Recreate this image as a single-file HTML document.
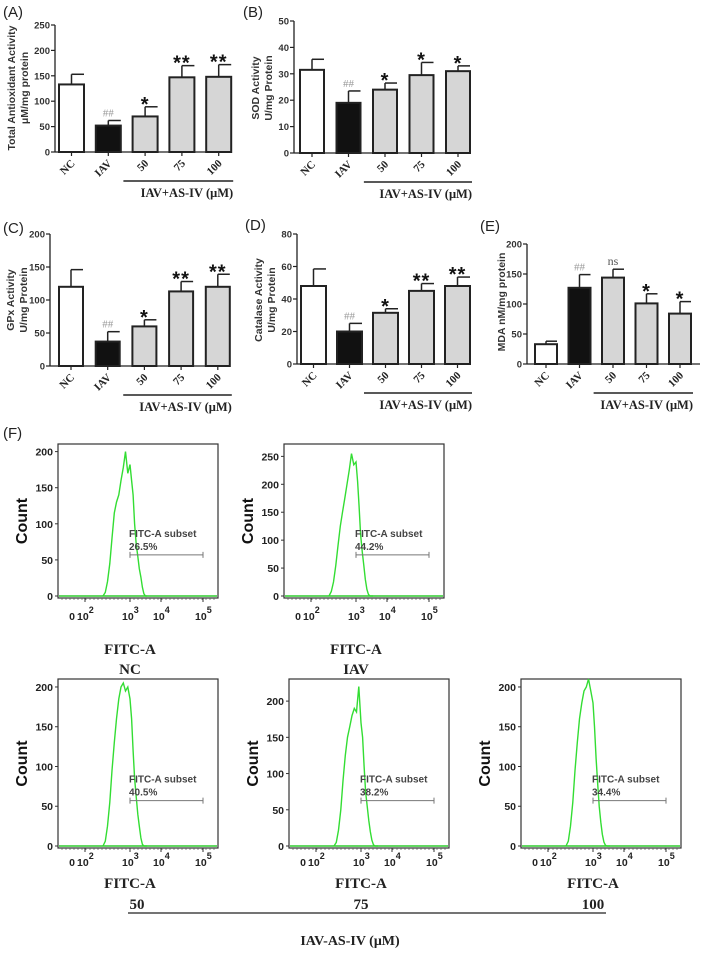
<!DOCTYPE html>
<html><head><meta charset="utf-8">
<style>
html,body{margin:0;padding:0;background:#fff;}
svg{display:block;}
.sans{font-family:"Liberation Sans",Arial,sans-serif;}
.serif{font-family:"Liberation Serif","Times New Roman",serif;}
</style></head>
<body>
<svg id="fig" width="702" height="955" viewBox="0 0 702 955" xmlns="http://www.w3.org/2000/svg"></svg>
<script>
// ---- bar chart data ----
const barCategories = ["NC","IAV","50","75","100"];
const aValues = [133,52,70,147,148];
const aErrors = [20,10,19,23,24];
const aMarks = ["","##","*","**","**"];
const bValues = [31.5,19,24,29.5,31];
const bErrors = [4,4.5,2.5,4.8,2];
const bMarks = ["","##","*","*","*"];
const cValues = [120,37,60,113,120];
const cErrors = [26,15,10,15,19];
const cMarks = ["","##","*","**","**"];
const dValues = [48,20,31.5,45,48];
const dErrors = [10.5,5,2.5,4.5,5.5];
const dMarks = ["","##","*","**","**"];
const eValues = [33,127,144,101,84];
const eErrors = [5,22,14,16,20];
const eMarks = ["","##","ns","*","*"];
const aTicks = [0,50,100,150,200,250];
const bTicks = [0,10,20,30,40,50];
const cTicks = [0,50,100,150,200];
const dTicks = [0,20,40,60,80];
const eTicks = [0,50,100,150,200];

// ---- flow histogram data (log10 fluorescence vs count) ----
const histLogX = [2.4,2.45,2.5,2.55,2.6,2.65,2.7,2.75,2.8,2.85,2.9,2.95,3.0,3.05,3.1,3.15,3.2,3.25,3.3,3.35,3.4,3.45,3.5,3.55];
const histNC  = [0,5,20,45,80,115,130,140,160,178,200,170,182,160,140,100,72,55,38,26,12,3,0,0];
const histIAV = [0,8,25,55,90,125,150,175,200,226,255,235,240,205,160,110,80,55,30,12,3,0,0,0];
const hist50  = [0,6,25,55,95,130,160,185,200,205,195,200,185,160,120,85,62,40,25,10,2,0,0,0];
const hist75  = [0,5,22,50,90,125,150,165,180,190,185,220,170,150,110,75,55,35,20,8,2,0,0,0];
const hist100 = [0,6,25,55,95,130,160,180,195,200,210,195,180,150,110,80,50,30,15,5,1,0,0,0];
const histPct = ["26.5%","44.2%","40.5%","38.2%","34.4%"];
const histTitles = ["NC","IAV","50","75","100"];
const histMaxes = [205,265,205,225,205];
const histTickSets = [[0,50,100,150,200],[0,50,100,150,200,250],[0,50,100,150,200],[0,50,100,150,200],[0,50,100,150,200]];
const decadeLabels = ["2","3","4","5"];

const NS="http://www.w3.org/2000/svg";
const svg=document.getElementById('fig');
function el(tag,attrs,parent,text){
  const e=document.createElementNS(NS,tag);
  for(const k in attrs) e.setAttribute(k,attrs[k]);
  if(text!==undefined) e.textContent=text;
  (parent||svg).appendChild(e);
  return e;
}

function barChart(id,cfg,values,errors,marks,ticks){
  const g=el('g',{});
  
  
  const y=v=>cfg.y0-(v/cfg.max)*(cfg.y0-cfg.yTop);
  const x=i=>cfg.bar0+i*cfg.step;
  const pl=el('text',{x:cfg.lx,y:cfg.ly,'font-size':15,class:'sans',fill:'#222'},g,cfg.label);
  
  
  const ya=el('line',{x1:cfg.ax,y1:cfg.yTop,x2:cfg.ax,y2:cfg.y0,stroke:'#222','stroke-width':1.3},g);
  
  
  ticks.forEach(t=>{
    el('line',{x1:cfg.ax-4,y1:y(t),x2:cfg.ax,y2:y(t),stroke:'#222','stroke-width':1.2},g);
    const tl=el('text',{x:cfg.ax-5,y:y(t)+3.5,'font-size':9.5,'font-weight':'bold',class:'sans','text-anchor':'end',fill:'#333'},g,t);
    
    
  });
  const xa=el('line',{x1:cfg.ax,y1:cfg.y0,x2:cfg.xEnd,y2:cfg.y0,stroke:'#222','stroke-width':1.3},g);
  
  
  const yl=el('text',{transform:`translate(${cfg.ylx},${cfg.yly}) rotate(-90)`,'font-size':10.5,'font-weight':'bold',class:'sans','text-anchor':'middle',fill:'#333'},g);
  
  
  el('tspan',{x:0,dy:0},yl,cfg.yt1);
  el('tspan',{x:0,dy:13},yl,cfg.yt2);
  values.forEach((v,i)=>{
    const bx=x(i), cx=bx+cfg.w/2;
    const fill=i===0?'#fff':(i===1?'#111':'#d6d6d6');
    const top=y(v+errors[i]);
    el('line',{x1:cx,y1:y(v),x2:cx,y2:top,stroke:'#222','stroke-width':1.5},g);
    el('line',{x1:cx,y1:top,x2:cx+cfg.w/2,y2:top,stroke:'#222','stroke-width':1.5},g);
    const r=el('rect',{x:bx,y:y(v),width:cfg.w,height:cfg.y0-y(v),fill:fill,stroke:'#222','stroke-width':2},g);
    
    
    el('line',{x1:cx,y1:cfg.y0,x2:cx,y2:cfg.y0+4,stroke:'#222','stroke-width':1.2},g);
    const cl=el('text',{transform:`translate(${cx+4},${cfg.y0+12}) rotate(-45)`,'font-size':11,'font-weight':'bold',class:'serif','text-anchor':'end',fill:'#222'},g,barCategories[i]);
    
    
    const m=marks[i];
    if(m){
      let attrs;
      if(m==='##') attrs={x:cx,y:top-4,'font-size':11,class:'serif','text-anchor':'middle',fill:'#999'};
      else if(m==='ns') attrs={x:cx,y:top-4,'font-size':12,class:'serif','text-anchor':'middle',fill:'#555'};
      else attrs={x:cx,y:top+4,'font-size':20,'font-weight':'bold',class:'sans','text-anchor':'middle',fill:'#111','letter-spacing':'1'};
      const mk=el('text',attrs,g,m);
      
      
    }
  });
  const ul=el('line',{x1:x(2)-cfg.step*0.25,y1:cfg.y0+29,x2:x(4)+cfg.w+2,y2:cfg.y0+29,stroke:'#222','stroke-width':1.5},g);
  
  
  const gt=el('text',{x:x(4)+cfg.w+2,y:cfg.y0+45,'font-size':12.5,'font-weight':'bold',class:'serif','text-anchor':'end',fill:'#222'},g,'IAV+AS-IV (μM)');
  
  
}

barChart('a',{label:'(A)',lx:3,ly:17,ax:55,y0:152,yTop:25,max:250,bar0:59,step:36.8,w:25,xEnd:232,ylx:15,yly:88,yt1:'Total Antioxidant Activity',yt2:'μM/mg protein'},aValues,aErrors,aMarks,aTicks);
barChart('b',{label:'(B)',lx:243,ly:17,ax:294,y0:153,yTop:21,max:50,bar0:300,step:36.5,w:24,xEnd:470,ylx:259,yly:88,yt1:'SOD Activity',yt2:'U/mg Protein'},bValues,bErrors,bMarks,bTicks);
barChart('c',{label:'(C)',lx:3,ly:233,ax:50,y0:366,yTop:234,max:200,bar0:59,step:36.7,w:24,xEnd:222,ylx:14,yly:300,yt1:'GPx Activity',yt2:'U/mg Protein'},cValues,cErrors,cMarks,cTicks);
barChart('d',{label:'(D)',lx:245,ly:230,ax:297,y0:364,yTop:234,max:80,bar0:301,step:36,w:25,xEnd:471,ylx:262,yly:300,yt1:'Catalase Activity',yt2:'U/mg Protein'},dValues,dErrors,dMarks,dTicks);
barChart('e',{label:'(E)',lx:480,ly:231,ax:527,y0:364,yTop:244,max:200,bar0:535,step:33.5,w:22,xEnd:700,ylx:505,yly:302,yt1:'MDA  nM/mg protein',yt2:''},eValues,eErrors,eMarks,eTicks);

// ---- histograms ----
const decAnchors=[[0,14],[2,27],[3,72],[4,103],[5,145]];
function decToOff(d){
  for(let i=1;i<decAnchors.length;i++){
    const [d0,o0]=decAnchors[i-1],[d1,o1]=decAnchors[i];
    if(d<=d1) return o0+(d-d0)/(d1-d0)*(o1-o0);
  }
  return decAnchors[decAnchors.length-1][1];
}
function histogram(idx,counts,bx,by,bw,bh,tickOff,t1Off,t2Off,t2x){
  const id='hist-'+histTitles[idx].toLowerCase();
  const g=el('g',{});
  
  
  const max=histMaxes[idx];
  const pTop=by+4, pBot=by+bh-2;
  const y=v=>pBot-(v/max)*(pBot-pTop);
  const X=d=>bx+decToOff(d);
  const box=el('rect',{x:bx,y:by,width:bw,height:bh,fill:'none',stroke:'#333','stroke-width':1.2},g);
  
  
  histTickSets[idx].forEach(t=>{
    el('line',{x1:bx-3,y1:y(t),x2:bx,y2:y(t),stroke:'#333','stroke-width':1},g);
    const tl=el('text',{x:bx-5,y:y(t)+4,'font-size':10.5,'font-weight':'bold',class:'sans','text-anchor':'end',fill:'#222'},g,t);
    
    
  });
  for(let o=4;o<bw;o+=4) el('line',{x1:bx+o,y1:by+bh,x2:bx+o,y2:by+bh+2,stroke:'#555','stroke-width':0.7},g);
  const cy=by+bh/2;
  const ct=el('text',{transform:`translate(${bx-31},${cy}) rotate(-90)`,'font-size':16,'font-weight':'bold',class:'sans','text-anchor':'middle',fill:'#111'},g,'Count');
  
  
  el('line',{x1:bx+1,y1:pBot,x2:bx+bw-1,y2:pBot,stroke:'#2ecc2e','stroke-width':1.5},g);
  let d='';
  counts.forEach((c,i)=>{d+=(i?'L':'M')+X(histLogX[i]).toFixed(1)+','+y(c).toFixed(1);});
  const p=el('path',{d:d,fill:'none',stroke:'#33dd33','stroke-width':1.4},g);
  
  
  const ly=by+bh+tickOff;
  const z=el('text',{x:bx+decToOff(0),y:ly,'font-size':10.5,'font-weight':'bold',class:'sans','text-anchor':'middle',fill:'#222'},g,'0');
  
  
  decadeLabels.forEach(s=>{
    const xx=X(+s);
    const t=el('text',{x:xx-8,y:ly,'font-size':10.5,'font-weight':'bold',class:'sans',fill:'#222'},g,'10');
    
    
    el('tspan',{dy:-7,'font-size':9},t,s);
    el('line',{x1:xx,y1:by+bh,x2:xx,y2:by+bh+4,stroke:'#333','stroke-width':1},g);
  });
  const gy=by+bh*0.72;
  const gx1=X(3), gx2=X(5);
  const gate=el('g',{},g);
  
  
  el('line',{x1:gx1,y1:gy,x2:gx2,y2:gy,stroke:'#777','stroke-width':1},gate);
  el('line',{x1:gx1,y1:gy-3,x2:gx1,y2:gy+3,stroke:'#777','stroke-width':1},gate);
  el('line',{x1:gx2,y1:gy-3,x2:gx2,y2:gy+3,stroke:'#777','stroke-width':1},gate);
  const s1=el('text',{x:gx1-1,y:gy-18,'font-size':10,'font-weight':'bold',class:'sans',fill:'#444'},g,'FITC-A subset');
  
  
  const s2=el('text',{x:gx1-1,y:gy-5,'font-size':10,'font-weight':'bold',class:'sans',fill:'#444'},g,histPct[idx]);
  
  
  const tcx=bx+decToOff(3);
  const t1=el('text',{x:tcx,y:by+bh+t1Off,'font-size':15,'font-weight':'bold',class:'serif','text-anchor':'middle',fill:'#222'},g,'FITC-A');
  
  
  const t2=el('text',{x:t2x!==undefined?t2x:tcx,y:by+bh+t2Off,'font-size':15,'font-weight':'bold',class:'serif','text-anchor':'middle',fill:'#222'},g,histTitles[idx]);
  
  
}
const fl=el('text',{x:3,y:438,'font-size':15,class:'sans',fill:'#222'},svg,'(F)');


histogram(0,histNC,58,444,160,154,22,56,76);
histogram(1,histIAV,284,444,160,154,22,56,76);
histogram(2,hist50,58,679,160,169,18,40,61,137);
histogram(3,hist75,289,679,160,169,18,40,61);
histogram(4,hist100,521,679,160,169,18,40,61);
const bl=el('line',{x1:128,y1:913,x2:606,y2:913,stroke:'#222','stroke-width':1.3},svg);


const bt=el('text',{x:350,y:945,'font-size':14,'font-weight':'bold',class:'serif','text-anchor':'middle',fill:'#222'},svg,'IAV-AS-IV (μM)');


</script>
</body></html>
